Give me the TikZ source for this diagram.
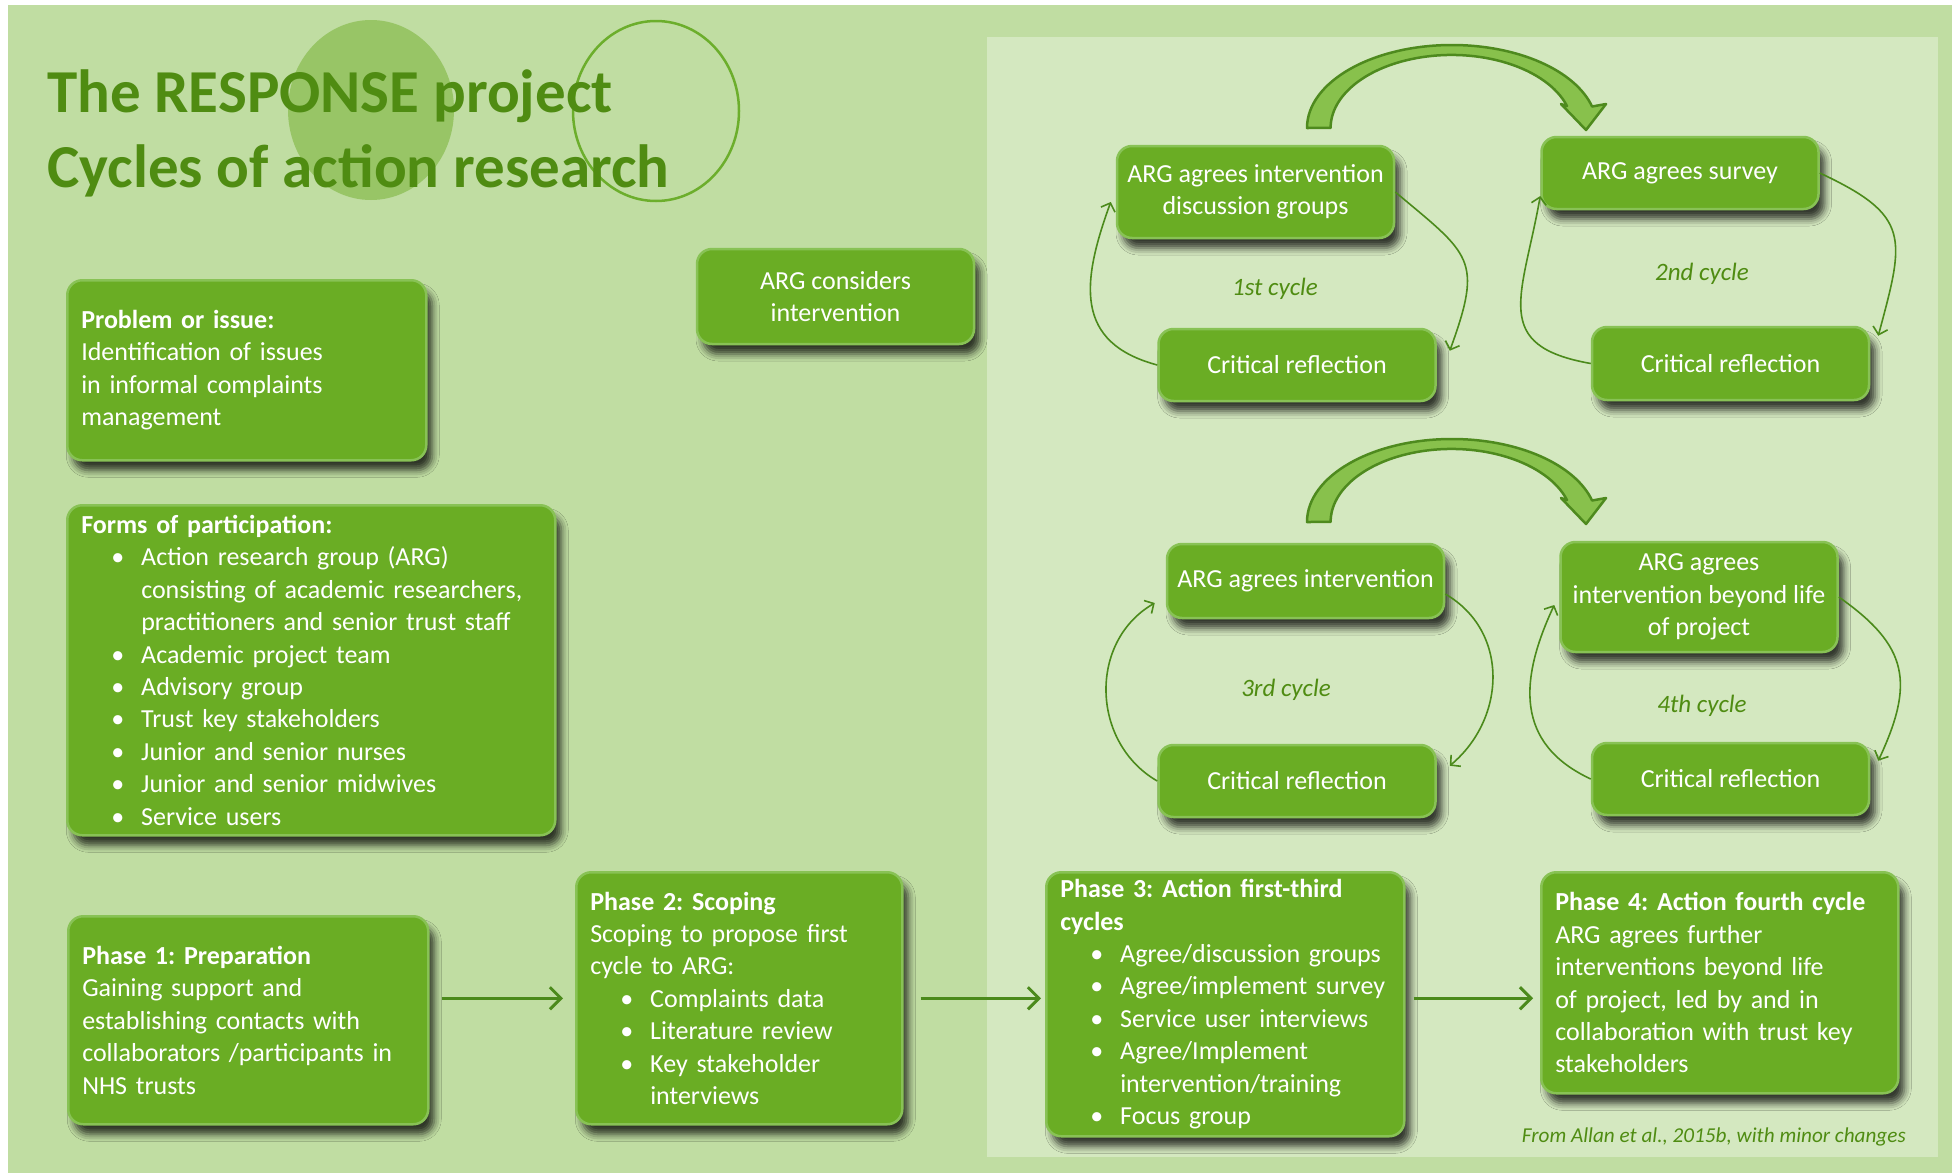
\documentclass[tikz,border=0pt]{standalone}
\usepackage{fontspec}
\setmainfont{Carlito}
\usepackage{tikz}
\usetikzlibrary{arrows.meta}
\usetikzlibrary{shadows.blur}
\definecolor{pageback}{HTML}{C0DDA2}
\definecolor{panelback}{HTML}{D4E8C0}
\definecolor{boxgreen}{HTML}{6AAD24}
\definecolor{boxglow}{HTML}{88C255}
\definecolor{titlegreen}{HTML}{4F8C12}
\definecolor{linegreen}{HTML}{4B8A1B}
\definecolor{blobgreen}{HTML}{98C566}
\definecolor{ringgreen}{HTML}{6CAE2C}
\definecolor{bendfill}{HTML}{88C14C}
\definecolor{bendline}{HTML}{4E8A1E}
\tikzstyle{none}=[inner sep=0pt]
\tikzstyle{greenbox}=[rounded corners=15pt,fill=boxgreen,draw=boxglow,line width=2.5pt,text=white,font=\fontsize{26}{32.4}\selectfont,blur shadow={shadow xshift=6pt,shadow yshift=-10pt,shadow blur radius=7pt,shadow opacity=75}]
\tikzstyle{textbox}=[greenbox,anchor=north west,align=left,inner xsep=14pt,inner ysep=0pt]
\tikzstyle{cyclebox}=[greenbox,align=center,minimum width=277pt,inner sep=0pt]
\tikzstyle{headline}=[inner sep=0pt,anchor=base west,text=titlegreen,font=\fontsize{61}{75}\selectfont\bfseries]
\tikzstyle{cyclelabel}=[inner sep=0pt,text=titlegreen,font=\fontsize{25}{30}\selectfont\itshape]
\tikzstyle{source}=[inner sep=0pt,anchor=base east,text=titlegreen,font=\fontsize{21.2}{24}\selectfont\itshape]
\tikzstyle{cycleline}=[draw=linegreen,line width=1.6pt,-{Straight Barb[length=7pt,width=15pt]}]
\tikzstyle{line}=[draw=linegreen,line width=3pt,-{Straight Barb[length=11pt,width=22pt]}]
\tikzstyle{bendarrow}=[fill=bendfill,draw=bendline,line width=2.5pt,line join=round]
\newcommand{\blt}[1]{\par\hangindent=60pt\hangafter=1\noindent\hspace*{30pt}\makebox[30pt][l]{\textbullet}#1\par}
\frenchspacing

\begin{document}
\begin{tikzpicture}[x=1pt,y=-1pt]
		% backdrop
		\fill [white] (0,0) rectangle (1952,1173);
		\fill [pageback] (8,5) rectangle (1952,1173);
		\fill [panelback] (987,37) rectangle (1938,1157);
		\fill [blobgreen] (371,110) ellipse [x radius=83pt,y radius=90pt];
		\draw [ringgreen,line width=2.5pt] (656,111) ellipse [x radius=83pt,y radius=90pt];
		\useasboundingbox (0,0) rectangle (1952,1173);
		\node [style=headline] (title1) at (47,112) {The RESPONSE project};
		\node [style=headline] (title2) at (47,187) {Cycles of action research};
		% left column
		\node [style=textbox,text width=331pt,minimum height=180pt] (problem) at (66,279) {\textbf{Problem or issue:}\\Identification of issues\\in informal complaints\\management};
		\node [style=textbox,text width=460pt,minimum height=330pt] (forms) at (66,504) {\textbf{Forms of participation:}\blt{Action research group (ARG)\newline consisting of academic researchers,\newline practitioners and senior trust staff}\blt{Academic project team}\blt{Advisory group}\blt{Trust key stakeholders}\blt{Junior and senior nurses}\blt{Junior and senior midwives}\blt{Service users}};
		\node [style=cyclebox,minimum height=95pt] (considers) at (835.5,296.5) {ARG considers\\intervention};
		% phases
		\node [style=textbox,text width=332pt,minimum height=208pt] (phase1) at (67,915) {\textbf{Phase 1: Preparation}\\Gaining support and\\establishing contacts with\\collaborators /participants in\\NHS trusts};
		\node [style=textbox,text width=298pt,minimum height=252pt] (phase2) at (575,871) {\textbf{Phase 2: Scoping}\\Scoping to propose first\\cycle to ARG:\blt{Complaints data}\blt{Literature review}\blt{Key stakeholder\newline interviews}};
		\node [style=textbox,text width=330pt,minimum height=264pt] (phase3) at (1045,871) {\textbf{Phase 3: Action first-third}\\\textbf{cycles}\blt{Agree/discussion groups}\blt{Agree/implement survey}\blt{Service user interviews}\blt{Agree/Implement\newline intervention/training}\blt{Focus group}};
		\node [style=textbox,text width=329pt,minimum height=221pt] (phase4) at (1540,871) {\textbf{Phase 4: Action fourth cycle}\\ARG agrees further\\interventions beyond life\\of project, led by and in\\collaboration with trust key\\stakeholders};
		% cycles
		\node [style=cyclebox,minimum height=92pt] (c1top) at (1255.5,192) {ARG agrees intervention\\discussion groups};
		\node [style=cyclebox,minimum height=72pt] (c1ref) at (1297,365) {Critical reflection};
		\node [style=cyclebox,minimum height=72pt] (c2top) at (1680,173) {ARG agrees survey};
		\node [style=cyclebox,minimum height=73pt] (c2ref) at (1730.5,363.5) {Critical reflection};
		\node [style=cyclebox,minimum height=74pt] (c3top) at (1305.5,581) {ARG agrees intervention};
		\node [style=cyclebox,minimum height=72pt] (c3ref) at (1297,781) {Critical reflection};
		\node [style=cyclebox,minimum height=110pt] (c4top) at (1699,597) {ARG agrees\\intervention beyond life\\of project};
		\node [style=cyclebox,minimum height=72pt] (c4ref) at (1730.5,779) {Critical reflection};
		\node [style=cyclelabel] (label1) at (1275,289) {1st cycle};
		\node [style=cyclelabel] (label2) at (1702,274) {2nd cycle};
		\node [style=cyclelabel] (label3) at (1286,690) {3rd cycle};
		\node [style=cyclelabel] (label4) at (1702,706) {4th cycle};
		\node [style=source] (source) at (1906,1142) {From Allan et al., 2015b, with minor changes};
		% cycle arrows
		\path [style=cycleline] (c1top.east) to[out=-40,in=70,looseness=1.5] ([xshift=13pt,yshift=-23pt]c1ref.north east);
		\path [style=cycleline] (c1ref.west) to[out=165,in=-110,looseness=1.3] ([xshift=-5pt,yshift=-10pt]c1top.west);
		\path [style=cycleline] (c2top.east) to[out=-25,in=75,looseness=1.5] ([xshift=8pt,yshift=-10pt]c2ref.north east);
		\path [style=cycleline] (c2ref.west) to[out=170,in=-100,looseness=1.5] ([yshift=-23pt]c2top.west);
		\path [style=cycleline] ([yshift=-13pt]c3top.east) to[out=-30,in=40,looseness=1.1] ([xshift=13pt,yshift=-22pt]c3ref.north east);
		\path [style=cycleline] (c3ref.west) to[out=150,in=-150,looseness=1.1] ([xshift=-11pt,yshift=-22pt]c3top.west);
		\path [style=cycleline] (c4top.east) to[out=-35,in=65,looseness=1.3] ([xshift=8pt,yshift=-19pt]c4ref.north east);
		\path [style=cycleline] (c4ref.west) to[out=155,in=-115,looseness=1.2] ([xshift=-5pt,yshift=-8pt]c4top.west);
		% phase arrows
		\path [style=line,shorten <=12pt,shorten >=12pt] (phase1.east |- phase2.west) -- (phase2.west);
		\path [style=line,shorten <=17pt,shorten >=4pt] (phase2.east) -- (phase2.east -| phase3.west);
		\path [style=line,shorten <=8pt,shorten >=7pt] (phase2.east -| phase3.east) -- (phase2.east -| phase4.west);
		% bends between cycles
		\path [style=bendarrow] (1307,128) arc[start angle=180,end angle=15,x radius=145pt,y radius=83pt] -- (1606,104) -- (1586,130) -- (1561,104) -- (1567,106) arc[start angle=17.5,end angle=180,x radius=121pt,y radius=73pt] -- cycle;
		\begin{scope}[yshift=-394pt]
			\path [style=bendarrow] (1307,128) arc[start angle=180,end angle=15,x radius=145pt,y radius=83pt] -- (1606,104) -- (1586,130) -- (1561,104) -- (1567,106) arc[start angle=17.5,end angle=180,x radius=121pt,y radius=73pt] -- cycle;
		\end{scope}
\end{tikzpicture}
\end{document}
